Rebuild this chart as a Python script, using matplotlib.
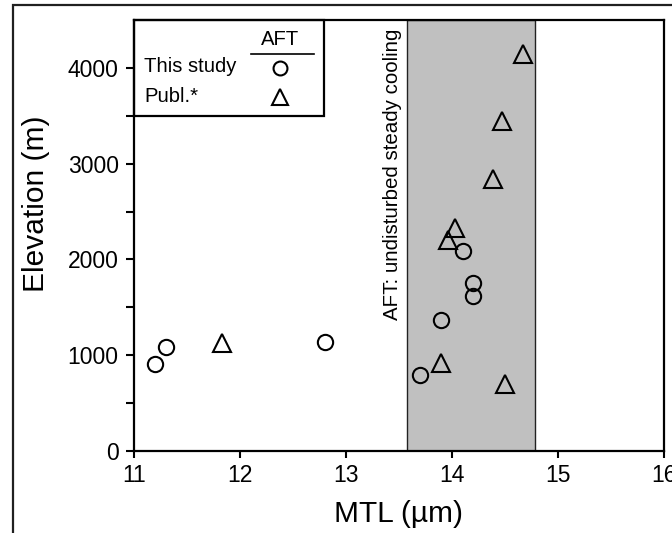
import matplotlib.pyplot as plt
from matplotlib.patches import Rectangle
from matplotlib.lines import Line2D

plt.rcParams['font.family'] = ['Liberation Sans', 'DejaVu Sans']

# AFT mean track length vs. elevation
study_mtl = [11.2, 11.3, 12.8, 13.7, 13.9, 14.2, 14.2, 14.1]
study_elev = [910, 1090, 1135, 795, 1365, 1615, 1750, 2085]
publ_mtl = [11.83, 13.9, 14.5, 13.96, 14.03, 14.39, 14.47, 14.67]
publ_elev = [1125, 915, 700, 2205, 2330, 2840, 3450, 4145]
band = (13.58, 14.78)

fig = plt.figure(figsize=(6.72, 5.33), dpi=100)
ax = fig.add_axes([0.1994, 0.1538, 0.7886, 0.8087])

# outer frame around the panel
fig.patches.append(Rectangle((13 / 672, -0.2), 1.2, 1.2 - 5 / 533,
                             transform=fig.transFigure, fill=False,
                             edgecolor='#202020', linewidth=1.6, clip_on=False))

ax.axvspan(band[0], band[1], facecolor='#c0c0c0', edgecolor='#222222',
           linewidth=1.0, zorder=1)
ax.text(13.44, 2890, 'AFT: undisturbed steady cooling', rotation=90,
        ha='center', va='center', fontsize=14.8)

mk = dict(linestyle='none', markerfacecolor='none', markeredgecolor='black',
          markeredgewidth=1.5, zorder=3)
ax.plot(study_mtl, study_elev, marker='o', markersize=11, **mk)
ax.plot(publ_mtl, publ_elev, marker='^', markersize=13, **mk)

ax.set_xlim(11, 16)
ax.set_ylim(0, 4500)
ax.set_xticks([11, 12, 13, 14, 15, 16])
ax.set_yticks([0, 1000, 2000, 3000, 4000])
ax.set_yticks([500, 1500, 2500, 3500], minor=True)
ax.tick_params(axis='both', labelsize=16.5, width=1.5, length=6, direction='out')
ax.tick_params(axis='y', which='minor', width=1.5, length=6)
ax.tick_params(axis='y', pad=5)
ax.tick_params(axis='x', length=5, pad=4)
for s in ax.spines.values():
    s.set_linewidth(1.6)

ax.set_xlabel('MTL (µm)', fontsize=21.5, labelpad=10)
ax.set_ylabel('Elevation (m)', fontsize=21.5)
ax.yaxis.set_label_coords(-0.158, 0.573)

# legend box drawn by hand
ax.add_patch(Rectangle((0, 0.777), 0.358, 0.223, transform=ax.transAxes,
                       fill=False, edgecolor='black', linewidth=1.6,
                       zorder=4, clip_on=False))
ax.text(0.276, 0.955, 'AFT', transform=ax.transAxes, ha='center',
        va='center', fontsize=14.6)
ax.add_line(Line2D([0.221, 0.339], [0.922, 0.922], transform=ax.transAxes,
                   color='black', linewidth=1.2))
ax.text(0.019, 0.893, 'This study', transform=ax.transAxes, ha='left',
        va='center', fontsize=14.6)
ax.text(0.019, 0.822, 'Publ.*', transform=ax.transAxes, ha='left',
        va='center', fontsize=14.6)
ax.plot([0.276], [0.889], marker='o', markersize=10, transform=ax.transAxes,
        clip_on=False, **mk)
ax.plot([0.276], [0.822], marker='^', markersize=12, transform=ax.transAxes,
        clip_on=False, **mk)

fig.savefig('out.png', dpi=100)
